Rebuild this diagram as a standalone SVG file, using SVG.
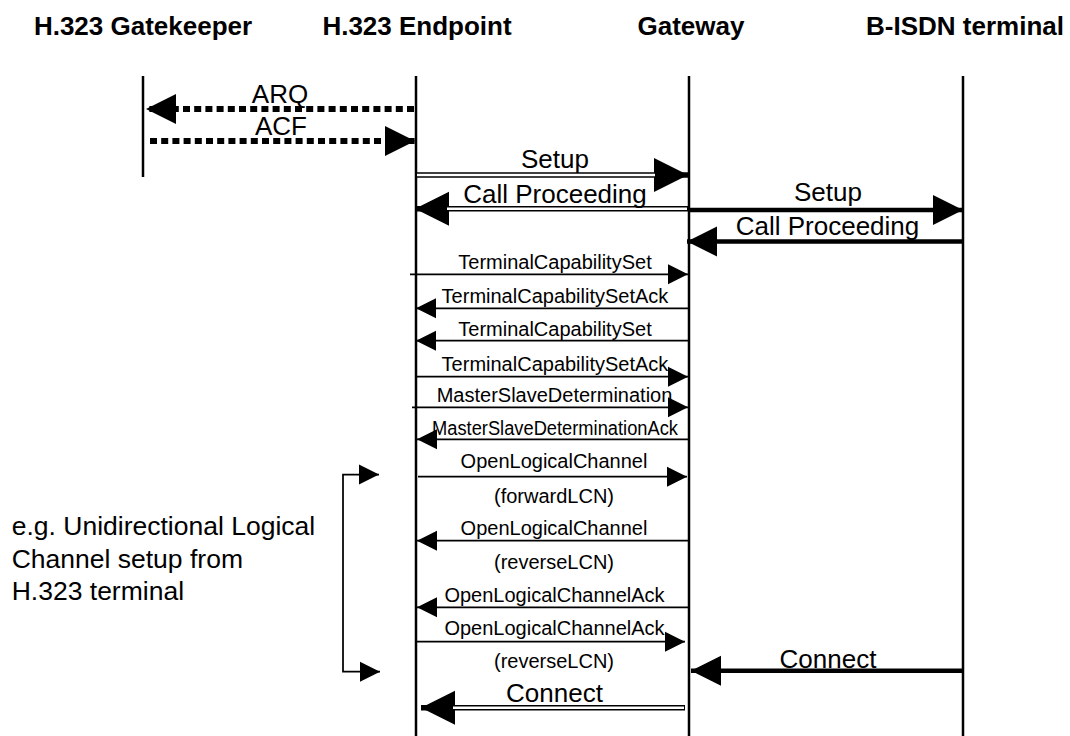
<svg xmlns="http://www.w3.org/2000/svg" width="1070" height="736" viewBox="0 0 1070 736">
<style>
text{font-family:"Liberation Sans",Arial,sans-serif;fill:#000}
.hdr{font-size:26px;font-weight:bold;text-anchor:middle}
.big{font-size:26px;text-anchor:middle}
.sm{font-size:20px;text-anchor:middle}
.note{font-size:26.5px}
.life{stroke:#000;stroke-width:2.5;fill:none}
.thin{stroke:#000;stroke-width:1.75;fill:none}
.thick{stroke:#000;stroke-width:4.5;fill:none}
.dot{stroke:#000;stroke-width:6;stroke-dasharray:7 4.2;fill:none}
.dblo{stroke:#000;stroke-width:5.5;fill:none}
.dbli{stroke:#fff;stroke-width:2.5;fill:none}
</style>
<defs>
<marker id="mS" markerUnits="userSpaceOnUse" markerWidth="20" markerHeight="20" refX="20" refY="10" orient="auto" overflow="visible"><path d="M0,0L20,10L0,20z" fill="#000"/></marker>
<marker id="mT" markerUnits="userSpaceOnUse" markerWidth="30" markerHeight="30" refX="30" refY="15" orient="auto" overflow="visible"><path d="M0,0L30,15L0,30z" fill="#000"/></marker>
<marker id="mB" markerUnits="userSpaceOnUse" markerWidth="34" markerHeight="34" refX="34" refY="17" orient="auto" overflow="visible"><path d="M0,0L34,17L0,34z" fill="#000"/></marker>
</defs>
<rect width="1070" height="736" fill="#fff"/>

<g id="gatekeeper">
<text class="hdr" x="143" y="35">H.323 Gatekeeper</text>
<line class="life" x1="143" y1="76" x2="143" y2="177"/>
</g>
<g id="endpoint">
<text class="hdr" x="417" y="35">H.323 Endpoint</text>
<line class="life" x1="416" y1="76" x2="416" y2="736"/>
</g>
<g id="gateway">
<text class="hdr" x="691" y="35">Gateway</text>
<line class="life" x1="689" y1="76" x2="689" y2="736"/>
</g>
<g id="bisdn">
<text class="hdr" x="965" y="35">B-ISDN terminal</text>
<line class="life" x1="963" y1="76" x2="963" y2="736"/>
</g>

<g id="connectors">
<!-- RAS -->
<path class="dot" d="M414,109H146" marker-end="url(#mT)"/>
<text class="big" x="280" y="103">ARQ</text>
<path class="dot" d="M150,141H415" marker-end="url(#mT)"/>
<text class="big" x="281" y="135">ACF</text>

<!-- Setup endpoint->gateway -->
<path class="dblo" d="M416,175H688" marker-end="url(#mB)"/>
<path class="dbli" d="M417,175H655"/>
<text class="big" x="555" y="168">Setup</text>

<!-- Call Proceeding gateway->endpoint -->
<path class="dblo" d="M688,208.7H415" marker-end="url(#mB)"/>
<path class="dbli" d="M687,208.7H447"/>
<text class="big" x="555" y="202.7">Call Proceeding</text>

<!-- Setup gateway->B-ISDN -->
<path class="thick" d="M689,210H963" marker-end="url(#mT)"/>
<text class="big" x="828" y="200.7">Setup</text>

<!-- Call Proceeding B-ISDN->gateway -->
<path class="thick" d="M963,241.5H687" marker-end="url(#mT)"/>
<text class="big" x="827.5" y="235">Call Proceeding</text>

<!-- H.245 -->
<path class="thin" d="M410,274.3H688" marker-end="url(#mS)"/>
<text class="sm" x="555" y="269.3">TerminalCapabilitySet</text>

<path class="thin" d="M689,308.3H416" marker-end="url(#mS)"/>
<text class="sm" x="555" y="303.3">TerminalCapabilitySetAck</text>

<path class="thin" d="M689,340.7H416" marker-end="url(#mS)"/>
<text class="sm" x="555" y="336">TerminalCapabilitySet</text>

<path class="thin" d="M416,376.7H688" marker-end="url(#mS)"/>
<text class="sm" x="555" y="370.7">TerminalCapabilitySetAck</text>

<path class="thin" d="M412,407.3H688" marker-end="url(#mS)"/>
<text class="sm" x="554.5" y="401.7">MasterSlaveDetermination</text>

<path class="thin" d="M689,439.3H417" marker-end="url(#mS)"/>
<text class="sm" x="555" y="435" textLength="246" lengthAdjust="spacingAndGlyphs">MasterSlaveDeterminationAck</text>

<path class="thin" d="M418,476.7H687" marker-end="url(#mS)"/>
<text class="sm" x="554" y="468.3">OpenLogicalChannel</text>
<text class="sm" x="554" y="503">(forwardLCN)</text>

<path class="thin" d="M689,540.7H417" marker-end="url(#mS)"/>
<text class="sm" x="554" y="535">OpenLogicalChannel</text>
<text class="sm" x="554" y="569.3">(reverseLCN)</text>

<path class="thin" d="M689,607.3H417" marker-end="url(#mS)"/>
<text class="sm" x="554.5" y="601.7">OpenLogicalChannelAck</text>

<path class="thin" d="M416,641.7H685" marker-end="url(#mS)"/>
<text class="sm" x="554.5" y="635">OpenLogicalChannelAck</text>
<text class="sm" x="554" y="668">(reverseLCN)</text>

<!-- Connect -->
<path class="thick" d="M963,670.7H691" marker-end="url(#mT)"/>
<text class="big" x="828" y="668">Connect</text>

<path class="dblo" d="M685,707.8H421" marker-end="url(#mB)"/>
<path class="dbli" d="M684,707.8H453"/>
<text class="big" x="554.5" y="701.7">Connect</text>
</g>

<g id="note">
<path class="thin" d="M343,572V474.5H379" marker-end="url(#mS)"/>
<path class="thin" d="M343,572V671.7H380" marker-end="url(#mS)"/>
<text class="note" x="11.7" y="535">e.g. Unidirectional Logical</text>
<text class="note" x="11.7" y="567.5">Channel setup from</text>
<text class="note" x="11.7" y="600">H.323 terminal</text>
</g>
</svg>
